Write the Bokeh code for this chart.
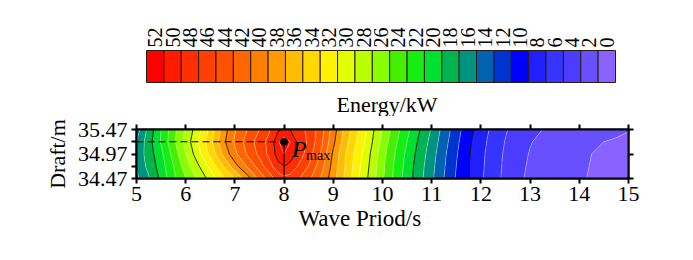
import numpy as np
from bokeh.plotting import figure
from bokeh.layouts import column
from bokeh.models import (Range1d, LinearAxis, FixedTicker, PrintfTickFormatter,
                          CustomJSTickFormatter, Title)
from bokeh.embed import file_html
from bokeh.resources import INLINE
from bokeh.core.properties import value

# ---------------- data ----------------
periods = [5.00, 5.25, 5.50, 5.75, 6.00, 6.25, 6.50, 6.75, 7.00, 7.25,
           7.50, 7.75, 7.875, 8.00, 8.125, 8.25, 8.50, 8.75, 9.00, 9.25, 9.50, 9.75,
           10.00, 10.25, 10.50, 10.75, 11.00, 11.25, 11.50, 11.75, 12.00, 12.25,
           12.50, 12.75, 13.00, 13.25, 13.50, 13.75, 14.00, 14.25, 14.50, 14.75,
           15.00]
drafts = [34.47, 34.72, 34.97, 35.22, 35.47]

energy_34_47 = [15.5, 17.8, 20.5, 23.5, 26.0, 28.3, 30.8, 33.5, 36.0, 39.0,
                42.5, 45.5, 46.7, 47.5, 47.2, 46.5, 44.5, 41.8, 38.8, 35.5, 32.3, 29.4,
                26.3, 23.5, 21.0, 18.7, 16.4, 14.0, 11.8, 10.1, 8.3, 6.8,
                5.5, 4.4, 3.6, 3.1, 2.75, 2.45, 2.15, 1.9, 1.72, 1.55,
                1.35]
energy_34_72 = [16.3, 18.6, 21.0, 24.0, 27.0, 29.7, 32.6, 35.8, 39.2, 42.2,
                45.0, 47.8, 49.3, 50.0, 49.4, 48.2, 45.9, 42.8, 39.2, 35.8, 32.6, 29.7,
                26.5, 23.7, 21.2, 18.9, 16.6, 14.2, 12.0, 10.1, 8.4, 6.9,
                5.6, 4.5, 3.75, 3.25, 2.85, 2.55, 2.2, 1.95, 1.78, 1.6,
                1.42]
energy_34_97 = [16.5, 19.0, 21.5, 24.7, 28.0, 31.2, 34.5, 38.2, 41.5, 44.2,
                46.5, 49.0, 51.0, 52.0, 51.2, 49.6, 47.0, 43.8, 39.6, 36.0, 33.0, 30.0,
                26.8, 24.0, 21.5, 19.2, 16.9, 14.4, 12.2, 10.2, 8.5, 7.0,
                5.7, 4.6, 3.9, 3.4, 3.0, 2.7, 2.3, 2.0, 1.8, 1.65,
                1.5]
energy_35_22 = [16.0, 19.2, 22.2, 25.5, 28.7, 32.0, 35.4, 39.3, 42.3, 44.8,
                47.0, 49.0, 51.8, 53.0, 52.0, 50.0, 47.6, 44.5, 40.5, 36.7, 33.6, 30.6,
                27.3, 24.5, 22.0, 19.6, 17.3, 14.8, 12.5, 10.4, 8.7, 7.2,
                5.9, 4.8, 4.1, 3.6, 3.2, 2.85, 2.5, 2.25, 2.0, 1.9,
                1.8]
energy_35_47 = [15.0, 18.7, 22.0, 25.3, 28.3, 31.2, 34.5, 38.8, 41.8, 44.0,
                46.0, 48.2, 49.6, 50.3, 49.9, 49.0, 47.5, 45.0, 41.0, 37.2, 34.2, 31.0,
                27.8, 25.0, 22.5, 20.1, 17.8, 15.2, 12.9, 10.7, 9.0, 7.5,
                6.2, 5.1, 4.4, 4.0, 3.6, 3.2, 2.9, 2.65, 2.4, 2.2,
                2.05]

levels = list(range(0, 56, 2))
cbar_labels = ["52", "50", "48", "46", "44", "42", "40", "38", "36", "34",
               "32", "30", "28", "26", "24", "22", "20", "18", "16", "14",
               "12", "10", "8", "6", "4", "2", "0"]
cbar_colors = ["#FF0000", "#FF1A00", "#FF2E00", "#FF4000", "#FF5200", "#FF6600",
               "#FF8000", "#FF9A00", "#FFBC00", "#FFD800", "#FFF200", "#E0FF00",
               "#B8FF00", "#88FF00", "#44F000", "#14EE10", "#00E030", "#00B450",
               "#009480", "#0062B0", "#0034D0", "#0000FF", "#2020FF", "#3535FF",
               "#4C3CFF", "#6850FF", "#8A62FF"]

x_ticks = [5, 6, 7, 8, 9, 10, 11, 12, 13, 14, 15]
y_ticks = [34.47, 34.97, 35.47]
y_minor = [34.72, 35.22]

pmax_period = 8.0
pmax_draft = 35.22

FONT = "Liberation Serif"
BL, BR = 136, 65          # shared left/right borders (px)

# ---------------- colour bar figure ----------------
CB_H = 116
box_px = (615 - 146) / len(cbar_labels)
cb = figure(width=693, height=CB_H,
            x_range=Range1d(-(146 - BL) / box_px, len(cbar_labels) + (693 - BR - 615) / box_px),
            y_range=Range1d(0, CB_H), output_backend="svg", toolbar_location=None,
            x_axis_location=None, y_axis_location=None,
            min_border_left=BL, min_border_right=BR, min_border_top=0, min_border_bottom=0)
cb.outline_line_color = None
cb.xgrid.visible = False
cb.ygrid.visible = False

xs = np.arange(len(cbar_labels)) + 0.5
cb.rect(x=xs, y=CB_H - 66, width=1, height=32, fill_color=cbar_colors,
        line_color="#2a1a10", line_width=1)
cb.text(x=xs, y=CB_H - 47, text=cbar_labels, angle=np.pi / 2,
        text_align="left", text_baseline="middle",
        text_font=value(FONT), text_font_size="20px", text_color="black")
cb.text(x=[len(cbar_labels) / 2], y=[CB_H - 104], text=["Energy/kW"], x_offset=6,
        text_align="center", text_baseline="alphabetic",
        text_font=value(FONT), text_font_size="22px", text_color="black")

# ---------------- contour figure ----------------
p = figure(width=693, height=260 - CB_H, x_range=Range1d(5, 15), y_range=Range1d(34.47, 35.47),
           output_backend="svg", toolbar_location=None,
           min_border_left=BL, min_border_right=BR, min_border_top=129 - CB_H, min_border_bottom=82)
p.xgrid.visible = False
p.ygrid.visible = False
p.outline_line_color = "black"
p.outline_line_width = 2

Z = np.array([energy_34_47, energy_34_72, energy_34_97, energy_35_22, energy_35_47])
fill = list(reversed(cbar_colors))
line_cols = ["black" if lv % 10 == 0 else "white" for lv in levels]
line_w = [0.9 if lv % 10 == 0 else 0.6 for lv in levels]
line_a = [0.9 if lv % 10 == 0 else 0.55 for lv in levels]
p.contour(x=periods, y=drafts, z=Z, levels=levels, fill_color=fill,
          line_color=line_cols, line_width=line_w, line_alpha=line_a)

# P_max marker
p.line(x=[periods[0], pmax_period], y=[pmax_draft, pmax_draft], line_color="black",
       line_width=1, line_dash="7 4")
p.line(x=[pmax_period, pmax_period], y=[drafts[0], pmax_draft], line_color="black", line_width=1)
p.scatter(x=[pmax_period], y=[pmax_draft], size=7, fill_color="black", line_color="black")
p.text(x=[pmax_period], y=[pmax_draft], text=["P"], x_offset=8, y_offset=7,
       text_font=value(FONT), text_font_style="italic", text_font_size="24px",
       text_baseline="alphabetic", text_align="left", text_color="black")
p.text(x=[pmax_period], y=[pmax_draft], text=["max"], x_offset=22, y_offset=14,
       text_font=value(FONT), text_font_size="14px",
       text_baseline="alphabetic", text_align="left", text_color="black")

# axes
def style_axis(ax):
    ax.axis_line_width = 2
    ax.axis_line_color = "black"
    ax.major_tick_line_width = 2
    ax.major_tick_out = 5
    ax.major_tick_in = 0
    ax.minor_tick_line_width = 2
    ax.minor_tick_out = 5
    ax.minor_tick_in = 0
    ax.major_label_text_font = FONT
    ax.major_label_text_color = "black"
    ax.axis_label_text_font = FONT
    ax.axis_label_text_font_style = "normal"
    ax.axis_label_text_color = "black"

xa = p.xaxis[0]
style_axis(xa)
xa.ticker = FixedTicker(ticks=x_ticks)
xa.major_label_text_font_size = "22px"
xa.major_label_standoff = 3

ya = p.yaxis[0]
style_axis(ya)
ya.ticker = FixedTicker(ticks=y_ticks, minor_ticks=y_minor)
ya.formatter = PrintfTickFormatter(format="%.2f")
ya.major_label_text_font_size = "22px"
ya.major_label_standoff = 4
ya.axis_label = "Draft/m"
ya.axis_label_text_font_size = "22px"
ya.axis_label_standoff = 5

blank = CustomJSTickFormatter(code="return ''")
top = LinearAxis(ticker=FixedTicker(ticks=x_ticks), formatter=blank)
style_axis(top)
top.major_label_standoff = 0
p.add_layout(top, "above")

right = LinearAxis(ticker=FixedTicker(ticks=y_ticks), formatter=blank)
style_axis(right)
right.major_label_standoff = 0
p.add_layout(right, "right")

# x axis title (sits a little left of the frame centre, as in the source)
p.add_layout(Title(text="Wave Priod/s", align="left", offset=162, standoff=0,
                   text_font=FONT, text_font_size="23px", text_font_style="normal",
                   text_color="black"), "below")

layout = column(cb, p, spacing=0)
open("out.html", "w").write(file_html(layout, INLINE))
